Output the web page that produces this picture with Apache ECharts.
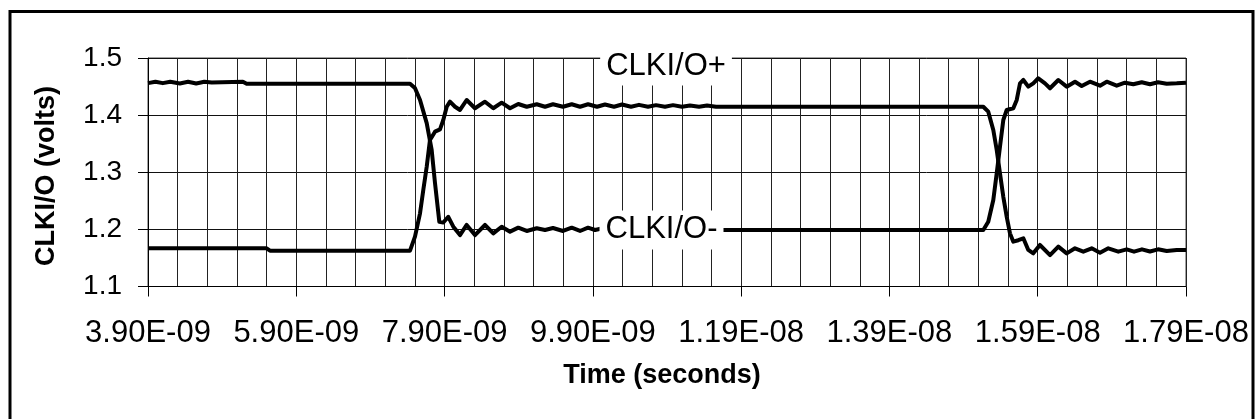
<!DOCTYPE html>
<html>
<head>
<meta charset="utf-8">
<script src="https://cdn.jsdelivr.net/npm/echarts@6/dist/echarts.min.js"></script>
<style>
html,body{margin:0;padding:0;background:#fff;}
#c{width:1255px;height:419px;}
</style>
</head>
<body>
<div id="c"></div>
<script>
// Tick labels on the time axis (one every 2 ns) and the gridline step count between them
var xTickLabels = ['3.90E-09','5.90E-09','7.90E-09','9.90E-09','1.19E-08','1.39E-08','1.59E-08','1.79E-08'];
var gridPerLabel = 5;           // vertical gridlines every 0.4 ns
var yTicks = [1.1, 1.2, 1.3, 1.4, 1.5];

// CLKI/O+ : time (ns), voltage (V)
var plusT = [3.9,5.5,5.545,7.434,7.501,7.569,7.613,7.659,7.703,7.771,7.838,7.883,7.929,7.973,8.041,8.108,8.198,8.31,8.445,8.557,8.67,8.783,8.894,9.008,9.143,9.255,9.362,9.497,9.615,9.727,9.835,9.956,10.064,10.185,10.293,10.415,10.522,10.644,10.752,10.873,10.981,11.102,11.21,11.332,11.44,11.561,15.166,15.233,15.301,15.347,15.391,15.436,15.482,15.526,15.571,15.638,15.706,15.773,15.84,15.93,16.066,16.178,16.291,16.403,16.515,16.628,16.74,16.852,16.987,17.1,17.199,17.306,17.414,17.523,17.64,17.775,17.9];
var plusV = [1.1668,1.1668,1.1627,1.1627,1.1872,1.2281,1.269,1.3097,1.3565,1.371,1.375,1.3915,1.4147,1.4235,1.4147,1.409,1.4265,1.412,1.4235,1.412,1.4218,1.412,1.4195,1.4147,1.419,1.4147,1.419,1.4147,1.419,1.4147,1.419,1.4147,1.4186,1.4147,1.4186,1.4147,1.418,1.4147,1.4175,1.4147,1.4175,1.4147,1.417,1.4147,1.4167,1.4147,1.4147,1.406,1.374,1.339,1.298,1.257,1.222,1.193,1.1785,1.181,1.1844,1.164,1.158,1.1727,1.155,1.1697,1.158,1.1669,1.161,1.1669,1.1592,1.1669,1.161,1.1651,1.161,1.1651,1.1613,1.1651,1.162,1.1639,1.1639];

// CLKI/O- : time (ns), voltage (V)
var minusT = [3.9,4.0,4.1,4.2,4.33,4.44,4.55,4.66,4.76,5.18,5.23,7.434,7.5,7.569,7.659,7.726,7.771,7.829,7.883,7.95,8.018,8.108,8.198,8.31,8.445,8.557,8.67,8.783,8.894,9.008,9.143,9.255,9.362,9.497,9.615,9.727,9.835,9.929,10.05,10.15,10.27,10.4,10.6,11.709,15.166,15.233,15.301,15.347,15.391,15.436,15.482,15.571,15.617,15.661,15.706,15.773,15.84,15.908,15.998,16.066,16.178,16.291,16.403,16.493,16.605,16.74,16.831,16.965,17.077,17.19,17.302,17.414,17.523,17.64,17.775,17.9];
var minusV = [1.456,1.4585,1.456,1.4585,1.4555,1.4585,1.4555,1.4585,1.457,1.4585,1.455,1.455,1.4475,1.4265,1.386,1.339,1.281,1.2134,1.212,1.222,1.2047,1.19,1.2077,1.19,1.2077,1.193,1.2047,1.196,1.203,1.1972,1.2019,1.1989,1.2024,1.1972,1.203,1.1972,1.203,1.1989,1.2025,1.1975,1.202,1.1985,1.2,1.199,1.199,1.2134,1.2514,1.2982,1.3447,1.3915,1.409,1.412,1.4265,1.4557,1.4615,1.4498,1.4557,1.4645,1.4557,1.447,1.4615,1.4498,1.4585,1.451,1.4585,1.4515,1.4585,1.4515,1.4568,1.454,1.4575,1.454,1.4575,1.455,1.4557,1.4568];

// in-plot series labels (anchored in data coordinates)
var plusLabel = {name: 'CLKI/O+', t: 10.887, v: 1.486};
var minusLabel = {name: 'CLKI/O-', t: 10.826, v: 1.199};

function pairs(ts, vs){ var out=[]; for (var i=0;i<ts.length;i++) out.push([ts[i], vs[i]]); return out; }

// category axis (gridlines/ticks/labels)
var gridCats = [];
for (var k = 0; k < (xTickLabels.length - 1) * gridPerLabel + 1; k++) {
  gridCats.push(k % gridPerLabel === 0 ? xTickLabels[k / gridPerLabel] : 'g' + k);
}
var tMin = 3.9, tMax = 17.9;

var FONT = 'Liberation Sans, Arial, sans-serif';
var chart = echarts.init(document.getElementById('c'), null, {renderer: 'canvas'});

function labelMark(l){
  return {
    symbol: 'rect', symbolSize: 0,
    data: [{name: l.name, coord: [l.t, l.v]}],
    label: {show: true, position: 'inside', formatter: l.name, color: '#000',
      fontFamily: FONT, fontSize: 31, backgroundColor: '#fff', padding: [4, 6, 4, 6]},
    z: 20
  };
}

chart.setOption({
  animation: false,
  backgroundColor: '#fff',
  grid: {left: 148, top: 58, width: 1038, height: 228.5, show: true, borderColor: '#444', borderWidth: 1, backgroundColor: 'transparent'},
  xAxis: [{
    type: 'category', data: gridCats, boundaryGap: false,
    axisLine: {show: true, lineStyle: {color: '#000', width: 1}},
    axisTick: {show: true, interval: gridPerLabel - 1, length: 10, lineStyle: {color: '#000'}},
    axisLabel: {interval: gridPerLabel - 1, color: '#000', fontFamily: FONT, fontSize: 31, margin: 31, showMaxLabel: true, showMinLabel: true},
    splitLine: {show: true, interval: 0, lineStyle: {color: '#222', width: 1}}
  }, {
    type: 'value', min: tMin, max: tMax, show: false
  }],
  yAxis: {
    type: 'value', min: yTicks[0], max: yTicks[yTicks.length-1], interval: 0.1,
    axisLine: {show: true, lineStyle: {color: '#000'}},
    axisTick: {show: true, length: 10, lineStyle: {color: '#000'}},
    axisLabel: {color: '#000', fontFamily: FONT, fontSize: 28, margin: 26},
    splitLine: {show: true, lineStyle: {color: '#111', width: 1}}
  },
  graphic: [
    {type: 'rect', shape: {x: 10, y: 11.5, width: 1243, height: 430}, style: {fill: 'none', stroke: '#000', lineWidth: 3}, z: 50, silent: true},
    {type: 'text', x: 662, y: 376, style: {text: 'Time (seconds)', font: 'bold 27px ' + FONT, fill: '#000', textAlign: 'center', textVerticalAlign: 'middle'}, z: 50},
    {type: 'text', x: 47, y: 176, rotation: Math.PI/2, style: {text: 'CLKI/O (volts)', font: 'bold 27px ' + FONT, fill: '#000', textAlign: 'center', textVerticalAlign: 'middle'}, z: 50}
  ],
  series: [{
    name: 'CLKI/O+', type: 'line', xAxisIndex: 1, data: pairs(plusT, plusV),
    showSymbol: false, symbol: 'none', lineStyle: {color: '#000', width: 4, join: 'round'},
    markPoint: labelMark(plusLabel), z: 5
  }, {
    name: 'CLKI/O-', type: 'line', xAxisIndex: 1, data: pairs(minusT, minusV),
    showSymbol: false, symbol: 'none', lineStyle: {color: '#000', width: 4, join: 'round'},
    markPoint: labelMark(minusLabel), z: 6
  }]
});
</script>
</body>
</html>
